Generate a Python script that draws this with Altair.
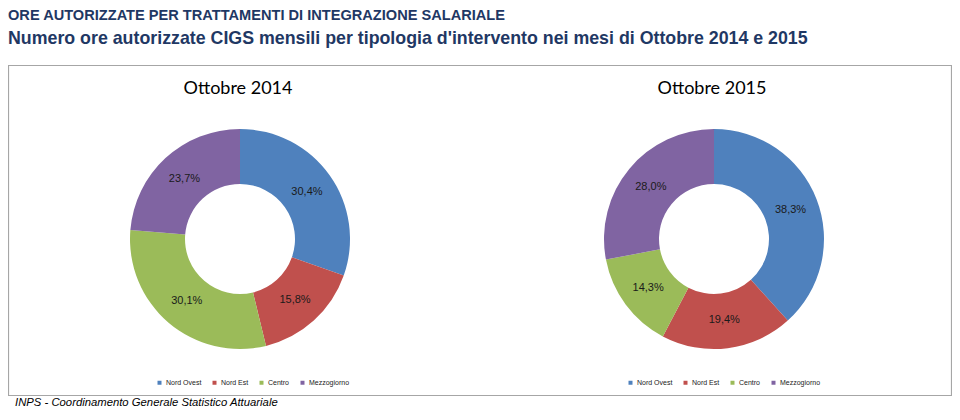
import altair as alt
import pandas as pd

# ---- data ----
main_title = "ORE AUTORIZZATE PER TRATTAMENTI DI INTEGRAZIONE SALARIALE"
sub_title = "Numero ore autorizzate CIGS mensili per tipologia d'intervento nei mesi di Ottobre 2014 e 2015"
footer = "INPS - Coordinamento Generale Statistico Attuariale"

panels = ["Ottobre 2014", "Ottobre 2015"]
regions = ["Nord Ovest", "Nord Est", "Centro", "Mezzogiorno"]
share_2014 = [30.4, 15.8, 30.1, 23.7]
share_2015 = [38.3, 19.4, 14.3, 28.0]
colors = ["#4F81BD", "#C0504D", "#9BBB59", "#8064A2"]

rows = []
for p, vals in zip(panels, [share_2014, share_2015]):
    for i, (r, v) in enumerate(zip(regions, vals)):
        rows.append({"panel": p, "region": r, "order": i, "value": v,
                     "label": f"{v:.1f}%".replace(".", ",")})
df = pd.DataFrame(rows)

W, H = 944, 400
centers = {"Ottobre 2014": (232, 231), "Ottobre 2015": (706, 231)}
legend_x = {"Ottobre 2014": 148, "Ottobre 2015": 619}

one = pd.DataFrame({"k": [0]})

box = alt.Chart(one).mark_rect(fill=None, stroke="#a6a6a6", strokeWidth=1.2).encode(
    x=alt.value(0.5), x2=alt.value(W - 0.5), y=alt.value(57.5), y2=alt.value(387.5)
)

t1 = alt.Chart(one).mark_text(
    text=main_title, align="left", baseline="alphabetic", fontSize=14.6, fontWeight="bold",
    font="Liberation Sans, Arial", color="#1F3864"
).encode(x=alt.value(0), y=alt.value(11.5))

t2 = alt.Chart(one).mark_text(
    text=sub_title, align="left", baseline="alphabetic", fontSize=17.8, fontWeight="bold",
    font="Liberation Sans, Arial", color="#1F3864"
).encode(x=alt.value(0), y=alt.value(36))

ft = alt.Chart(one).mark_text(
    text=footer, align="left", baseline="alphabetic", fontSize=11.3, fontStyle="italic",
    font="Liberation Sans, Arial", color="#000000"
).encode(x=alt.value(7), y=alt.value(398))

layers = [box, t1, t2, ft]
for p in panels:
    cx, cy = centers[p]
    base = alt.Chart(df).transform_filter(alt.datum.panel == p)
    arc = base.mark_arc(radius=110, radius2=55).encode(
        theta=alt.Theta("value:Q", stack=True),
        order=alt.Order("order:Q"),
        color=alt.Color(
            "region:N", sort=regions,
            scale=alt.Scale(domain=regions, range=colors),
            legend=alt.Legend(
                orient="none", legendX=legend_x[p], legendY=371, direction="horizontal",
                title=None, symbolType="square", symbolSize=16, symbolStrokeWidth=0,
                labelFontSize=7, labelFont="Liberation Sans, Arial", labelColor="#222222",
                columnPadding=9, labelOffset=3,
            ),
        ),
        x=alt.value(cx), y=alt.value(cy),
    )
    lab = base.mark_text(radius=82, fontSize=11, font="Liberation Sans, Arial", color="#1a1a1a").encode(
        theta=alt.Theta("value:Q", stack=True),
        order=alt.Order("order:Q"),
        text="label:N",
        x=alt.value(cx), y=alt.value(cy),
    )
    ttl = alt.Chart(one).mark_text(
        text=p, align="center", baseline="alphabetic", fontSize=18,
        font="Lato", color="#000000"
    ).encode(x=alt.value(cx - 2), y=alt.value(86))
    layers += [arc, lab, ttl]

chart = alt.layer(*layers).resolve_scale(color="independent").resolve_legend(
    color="independent"
).properties(
    width=W, height=H, autosize=alt.AutoSizeParams(type="none"), padding=0
).configure_view(stroke=None)

chart.save("out.html", embed_options={"renderer": "svg", "actions": False})
